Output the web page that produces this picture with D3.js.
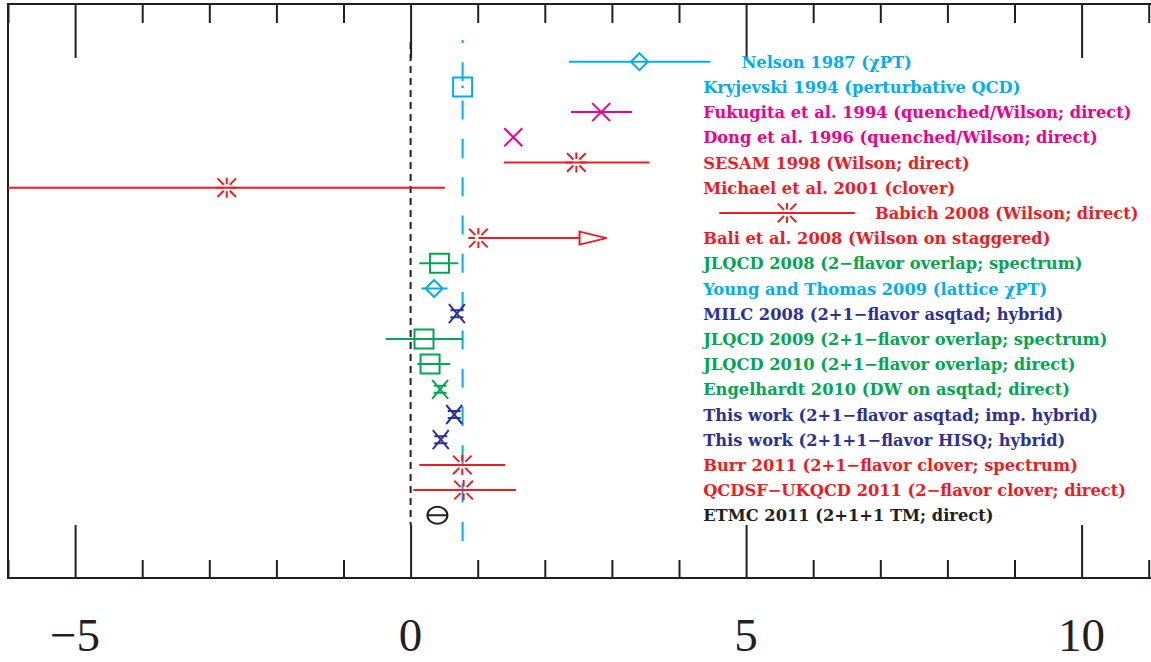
<!DOCTYPE html>
<html><head><meta charset="utf-8">
<script src="https://cdn.jsdelivr.net/npm/d3@7"></script>
<style>body{margin:0;background:#fff}svg{display:block}</style>
</head><body><svg id="c" width="1151" height="662"></svg>
<script>
// ---------- data ----------
const labels = [
  "Nelson 1987 (χPT)",
  "Kryjevski 1994 (perturbative QCD)",
  "Fukugita et al. 1994 (quenched/Wilson; direct)",
  "Dong et al. 1996 (quenched/Wilson; direct)",
  "SESAM 1998 (Wilson; direct)",
  "Michael et al. 2001 (clover)",
  "Babich 2008 (Wilson; direct)",
  "Bali et al. 2008 (Wilson on staggered)",
  "JLQCD 2008 (2−flavor overlap; spectrum)",
  "Young and Thomas 2009 (lattice χPT)",
  "MILC 2008 (2+1−flavor asqtad; hybrid)",
  "JLQCD 2009 (2+1−flavor overlap; spectrum)",
  "JLQCD 2010 (2+1−flavor overlap; direct)",
  "Engelhardt 2010 (DW on asqtad; direct)",
  "This work (2+1−flavor asqtad; imp. hybrid)",
  "This work (2+1+1−flavor HISQ; hybrid)",
  "Burr 2011 (2+1−flavor clover; spectrum)",
  "QCDSF−UKQCD 2011 (2−flavor clover; direct)",
  "ETMC 2011 (2+1+1 TM; direct)"
];
const groups = ["cyan","cyan","magenta","magenta","red","red","red","red","green","cyan",
                "navy","green","green","green","navy","navy","red","red","black"];
const symbols = ["diamond","squareDot","x","x","burst","burst","burst","burst","square","diamond",
                 "hourglass","square","square","hourglass","hourglass","hourglass","burst","burst","theta"];
const values = [3.41, 0.775, 2.84, 1.53, 2.47, -2.74, 5.61, 1.01, 0.43, 0.35,
                0.69, 0.20, 0.29, 0.44, 0.65, 0.45, 0.77, 0.79, 0.40];
const lows   = [2.36, 0.775, 2.39, 1.53, 1.39, -6.5, 4.60, 1.01, 0.13, 0.16,
                0.69, -0.37, 0.10, 0.44, 0.65, 0.45, 0.13, 0.04, 0.40];
const highs  = [4.47, 0.775, 3.30, 1.53, 3.56, 0.51, 6.62, 1.01, 0.71, 0.55,
                0.69, 0.78, 0.59, 0.44, 0.65, 0.45, 1.41, 1.57, 0.40];
const lowerLimitRow = 7;          // Bali et al.: lower bound drawn as arrow
const arrowTip = 2.92;
const labelX = [4.93, 4.36, 4.36, 4.36, 4.36, 4.36, 6.92, 4.36, 4.36, 4.36,
                4.36, 4.36, 4.36, 4.36, 4.36, 4.36, 4.36, 4.36, 4.36];
const refLine = 0.775;
const majorTicks = [-5, 0, 5, 10];
const minorTicks = [-6,-4,-3,-2,-1,1,2,3,4,6,7,8,9,11];
const tickLabels = ["−5", "0", "5", "10"];

const palette = {cyan:"#00aeef", magenta:"#ec008c", red:"#ed1c24", green:"#00a651", navy:"#2e3192", black:"#231f20"};
const ink = "#231f20";

// ---------- layout ----------
(function draw() {
const svg = d3.select("#c");
const W = 1151, fL = 8, fT = 4, fB = 578;
const x = d3.scaleLinear().domain([-6, 11.05]).range([fL, fL + 17.05 * 67.1]);
const y = d3.scaleLinear().domain([0, labels.length - 1]).range([61.7, 515.3]);

svg.append("defs").append("clipPath").attr("id","clip")
  .append("rect").attr("x", fL).attr("y", fT).attr("width", W - fL).attr("height", fB - fT);

// frame
svg.append("line").attr("x1", fL).attr("x2", W).attr("y1", fT).attr("y2", fT).attr("stroke", ink).attr("stroke-width", 2);
svg.append("line").attr("x1", fL).attr("x2", W).attr("y1", fB).attr("y2", fB).attr("stroke", ink).attr("stroke-width", 2);
svg.append("line").attr("x1", fL).attr("x2", fL).attr("y1", fT - 1).attr("y2", fB + 1).attr("stroke", ink).attr("stroke-width", 2);

// axes via d3.axis
const axB = d3.axisBottom(x).tickValues(majorTicks).tickSize(-53).tickFormat("");
const axBm = d3.axisBottom(x).tickValues(minorTicks).tickSize(-18).tickFormat("");
const axT = d3.axisTop(x).tickValues(majorTicks).tickSize(-54).tickFormat("");
const axTm = d3.axisTop(x).tickValues(minorTicks).tickSize(-19).tickFormat("");
[[axB,fB],[axBm,fB],[axT,fT],[axTm,fT]].forEach(([ax,yy]) => {
  const g = svg.append("g").attr("transform", `translate(0,${yy})`).call(ax);
  g.select(".domain").remove();
  g.selectAll("line").attr("stroke", ink).attr("stroke-width", 2);
});
svg.append("g").selectAll("text").data(majorTicks).join("text")
  .attr("x", d => x(d)).attr("y", 651).attr("text-anchor","middle")
  .attr("font-family","'Liberation Serif','DejaVu Serif',serif").attr("font-size", 47)
  .attr("fill", ink).text((d,i) => tickLabels[i]);

// reference lines
svg.append("line").attr("x1", x(0)).attr("x2", x(0)).attr("y1", 42).attr("y2", 525)
  .attr("stroke", ink).attr("stroke-width", 2).attr("stroke-dasharray", "7,5");
svg.append("line").attr("x1", x(refLine)).attr("x2", x(refLine)).attr("y1", 40).attr("y2", 541)
  .attr("stroke", palette.cyan).attr("stroke-width", 2).attr("stroke-dasharray", "19,19.3").attr("stroke-dashoffset", 16);

// error bars
const plot = svg.append("g").attr("clip-path","url(#clip)");
plot.selectAll("line.err").data(values.map((v,i)=>i).filter(i => highs[i] > lows[i])).join("line")
  .attr("class","err")
  .attr("x1", i => x(lows[i])).attr("x2", i => x(highs[i]))
  .attr("y1", i => y(i)).attr("y2", i => y(i))
  .attr("stroke", i => palette[groups[i]]).attr("stroke-width", 2);

// lower-limit arrow
{
  const i = lowerLimitRow, c = palette[groups[i]];
  const tipX = x(arrowTip), baseX = tipX - 27, yy = y(i);
  plot.append("line").attr("x1", x(values[i])).attr("x2", baseX).attr("y1", yy).attr("y2", yy)
    .attr("stroke", c).attr("stroke-width", 2);
  plot.append("path").attr("d", `M${baseX},${yy-6.5}L${tipX},${yy}L${baseX},${yy+6.5}Z`)
    .attr("fill","white").attr("stroke", c).attr("stroke-width", 2);
}

// symbol shapes
function shape(kind) {
  const p = d3.path();
  switch (kind) {
    case "diamond":
      p.moveTo(0,-8.5); p.lineTo(8.5,0); p.lineTo(0,8.5); p.lineTo(-8.5,0); p.closePath(); break;
    case "square": case "squareDot":
      p.rect(-9.5,-9.5,19,19); break;
    case "x":
      p.moveTo(-9,-9); p.lineTo(9,9); p.moveTo(-9,9); p.lineTo(9,-9); break;
    case "burst": {
      const r0 = 3.5, r1 = 10, d0 = 3, d1 = 9.3;
      p.moveTo(0,-r0); p.lineTo(0,-r1); p.moveTo(0,r0); p.lineTo(0,r1);
      p.moveTo(-r0,0); p.lineTo(-r1,0); p.moveTo(r0,0); p.lineTo(r1,0);
      [[1,1],[1,-1],[-1,1],[-1,-1]].forEach(([a,b]) => { p.moveTo(a*d0,b*d0); p.lineTo(a*d1,b*d1); });
      break; }
    case "hourglass":
      p.moveTo(-8,-9.5); p.lineTo(8,9.5); p.moveTo(-8,9.5); p.lineTo(8,-9.5);
      p.moveTo(-6.5,-3.5); p.lineTo(6.5,-3.5); p.moveTo(-6.5,3.5); p.lineTo(6.5,3.5); break;
    case "theta":
      p.moveTo(-10,0); p.lineTo(10,0);
      p.moveTo(10,0); p.arc(0,0,10,0,Math.PI*2); break;
  }
  return p.toString();
}
const idx = values.map((v,i)=>i);
const marks = plot.selectAll("g.mark").data(idx).join("g").attr("class","mark")
  .attr("transform", i => `translate(${x(values[i])},${y(i)})` + (symbols[i] === "theta" ? " scale(1,0.85)" : ""));
marks.append("path").attr("d", i => shape(symbols[i]))
  .attr("fill", "none").attr("stroke", i => palette[groups[i]]).attr("stroke-width", 2)
  .attr("vector-effect","non-scaling-stroke")
  .attr("stroke-linejoin","miter");
marks.filter(i => symbols[i] === "squareDot").append("circle").attr("r", 1.3)
  .attr("fill", i => palette[groups[i]]);

// labels
svg.append("g").selectAll("text").data(idx).join("text")
  .attr("x", i => x(labelX[i])).attr("y", i => y(i) + 6)
  .attr("font-family", "'DejaVu Serif', serif").attr("font-weight", "bold").attr("font-size", 16.3)
  .attr("fill", i => palette[groups[i]]).text(i => labels[i]);
})();
</script></body></html>
